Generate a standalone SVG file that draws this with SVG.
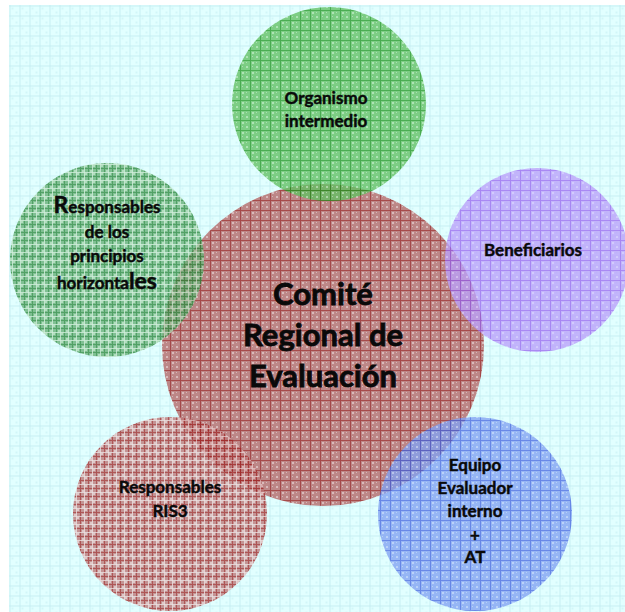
<svg xmlns="http://www.w3.org/2000/svg" width="625" height="612" viewBox="0 0 625 612">
<style>
.t{font-family:Lato,"Liberation Sans",sans-serif;font-weight:bold;fill:#0a0a0a;stroke:#0a0a0a;text-anchor:middle}
.s{font-size:17px;stroke-width:0.45}
.b{font-size:31px;stroke-width:0.8}
.c{opacity:0.78}
</style>
<defs>
<pattern id="bg" patternUnits="userSpaceOnUse" x="9.5" y="5.5" width="10" height="10">
<rect width="10" height="10" fill="#e2ffff"/>
<path d="M2 2h2v2h-2zM6 6h2v2h-2z" fill="#d2f6f8"/>
<path d="M0 0.5H10M0.5 0V10" stroke="#c6eef2" stroke-width="1"/>
</pattern>
<pattern id="pg" patternUnits="userSpaceOnUse" width="10" height="10">
<rect width="10" height="10" fill="#62c062"/>
<path d="M2 2h2v2h-2zM6 6h2v2h-2zM6 2h1v1h-1zM2 6h1v1h-1z" fill="#a0dca0"/>
<path d="M0 0.5H10M0.5 0V10" stroke="#229622" stroke-width="1"/>
</pattern>
<pattern id="pl" patternUnits="userSpaceOnUse" width="8" height="8">
<rect width="8" height="8" fill="#64ae74"/>
<path d="M2 2h2v2h-2zM5 5h2v2h-2z" fill="#a4d6ac"/>
<path d="M0 0.5H8M0.5 0V8" stroke="#2a863a" stroke-width="1"/>
<path d="M0 4.5H8M4.5 0V8" stroke="#d0ecd4" stroke-width="0.8"/>
</pattern>
<pattern id="pr" patternUnits="userSpaceOnUse" width="10" height="10">
<rect width="10" height="10" fill="#b46666"/>
<path d="M2 2h2v2h-2zM6 6h2v2h-2zM6 2h1v1h-1zM2 6h1v1h-1z" fill="#d8a8a8"/>
<path d="M0 0.5H10M0.5 0V10" stroke="#961818" stroke-width="1"/>
</pattern>
<pattern id="pr2" patternUnits="userSpaceOnUse" width="8" height="8">
<rect width="8" height="8" fill="#bc7676"/>
<path d="M2 2h2v2h-2zM5 5h2v2h-2z" fill="#e0b8b8"/>
<path d="M0 0.5H8M0.5 0V8" stroke="#a02626" stroke-width="1"/>
<path d="M0 4.5H8M4.5 0V8" stroke="#f0dcdc" stroke-width="0.8"/>
</pattern>
<pattern id="pp" patternUnits="userSpaceOnUse" width="10" height="10">
<rect width="10" height="10" fill="#baa0fa"/>
<path d="M2 2h2v2h-2zM6 6h2v2h-2z" fill="#cebcfc"/>
<path d="M0 0.5H10M0.5 0V10" stroke="#9a68f0" stroke-width="1"/>
</pattern>
<pattern id="pb" patternUnits="userSpaceOnUse" width="10" height="10">
<rect width="10" height="10" fill="#82a2f2"/>
<path d="M2 2h2v2h-2zM6 6h2v2h-2zM6 2h1v1h-1zM2 6h1v1h-1z" fill="#b0c6f8"/>
<path d="M0 0.5H10M0.5 0V10" stroke="#4868e0" stroke-width="1"/>
</pattern>
</defs>
<rect x="9" y="5" width="616" height="607" fill="url(#bg)"/>
<g id="connectors"></g>
<g id="comite">
<circle class="c" cx="323" cy="345" r="161" fill="url(#pr)"/>
</g>
<g id="organismo">
<circle class="c" cx="329" cy="104" r="97" fill="url(#pg)"/>
</g>
<g id="principios">
<circle class="c" cx="107" cy="260" r="97" fill="url(#pl)"/>
</g>
<g id="ris3">
<circle class="c" cx="170" cy="514" r="97" fill="url(#pr2)"/>
</g>
<g id="beneficiarios">
<circle class="c" cx="537" cy="260" r="92" fill="url(#pp)"/>
</g>
<g id="equipo">
<circle class="c" cx="475" cy="514" r="97" fill="url(#pb)"/>
</g>
<g id="labels">
<text class="t s" x="326" y="104">Organismo</text>
<text class="t s" x="326" y="127">intermedio</text>
<text class="t s" x="107" y="213"><tspan font-size="23">R</tspan>esponsables</text>
<text class="t s" x="107" y="238">de los</text>
<text class="t s" x="107" y="262">principios</text>
<text class="t s" x="107" y="289">horizonta<tspan font-size="23">les</tspan></text>
<text class="t s" x="533" y="256">Beneficiarios</text>
<text class="t b" x="323" y="305">Comité</text>
<text class="t b" x="323" y="346">Regional de</text>
<text class="t b" x="323" y="387">Evaluación</text>
<text class="t s" x="170" y="493">Responsables</text>
<text class="t s" x="170" y="517">RIS3</text>
<text class="t s" x="475" y="471">Equipo</text>
<text class="t s" x="475" y="494">Evaluador</text>
<text class="t s" x="475" y="517">interno</text>
<text class="t s" x="475" y="541">+</text>
<text class="t s" x="475" y="563">AT</text>
</g>
</svg>
